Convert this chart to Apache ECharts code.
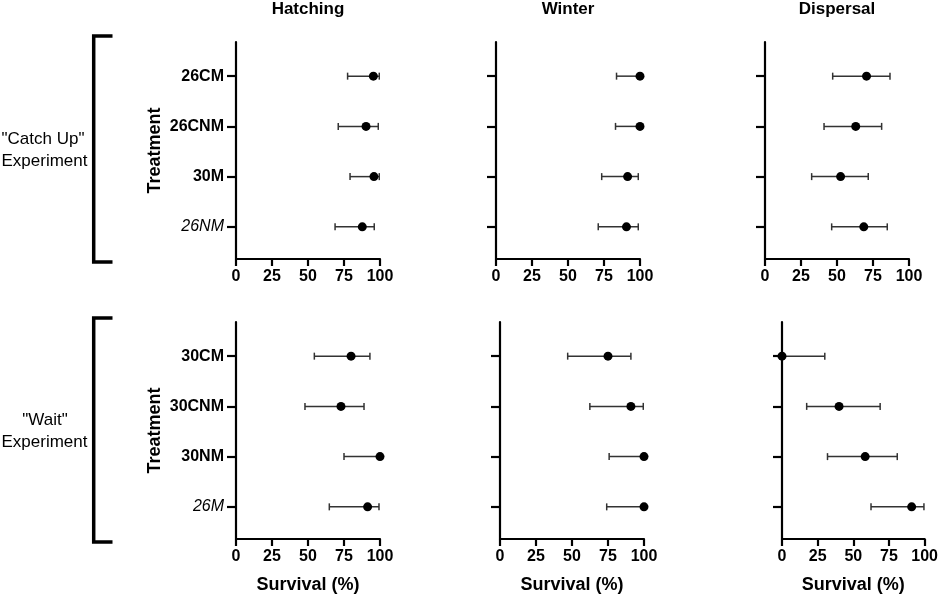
<!DOCTYPE html>
<html>
<head>
<meta charset="utf-8">
<script src="https://cdn.jsdelivr.net/npm/echarts@6/dist/echarts.min.js"></script>
<style>
html,body{margin:0;padding:0;background:#fff;}
#chart{width:941px;height:597px;}
</style>
</head>
<body>
<div id="chart"></div>
<script>
// ---- Data ----
const catchUpCats = ['26CM', '26CNM', '30M', '26NM'];
const waitCats = ['30CM', '30CNM', '30NM', '26M'];
const italicCats = ['26NM', '26M'];
const stageTitles = ['Hatching', 'Winter', 'Dispersal'];
const xTicks = [0, 25, 50, 75, 100];

// Catch Up experiment
const hatchCU_mean = [95.4, 90.3, 95.8, 87.7];
const hatchCU_low  = [77.5, 71.0, 79.2, 68.8];
const hatchCU_high = [99.5, 98.8, 99.5, 96.0];

const winterCU_mean = [100, 100, 91.4, 90.6];
const winterCU_low  = [83.7, 83.0, 73.4, 71.0];
const winterCU_high = [100, 100, 98.8, 98.8];

const dispCU_mean = [70.5, 63.0, 52.5, 68.6];
const dispCU_low  = [47.0, 41.0, 32.4, 46.3];
const dispCU_high = [86.8, 81.0, 71.7, 84.9];

// Wait experiment
const hatchW_mean = [79.9, 72.9, 100, 91.4];
const hatchW_low  = [54.4, 47.9, 75.0, 64.8];
const hatchW_high = [93.0, 88.9, 100, 99.3];

const winterW_mean = [75.0, 90.9, 100, 100];
const winterW_low  = [47.0, 62.4, 75.8, 74.1];
const winterW_high = [90.9, 99.5, 100, 100];

const dispW_mean = [0, 40.0, 58.3, 90.9];
const dispW_low  = [0, 17.3, 31.9, 62.4];
const dispW_high = [30.0, 68.8, 80.8, 99.5];

// ---- Layout ----
const FONT = '"Liberation Sans", Arial, sans-serif';
const panels = [
  {cats: catchUpCats, mean: hatchCU_mean, low: hatchCU_low, high: hatchCU_high, left: 236, top: 42, labels: true, xname: false},
  {cats: catchUpCats, mean: winterCU_mean, low: winterCU_low, high: winterCU_high, left: 496, top: 42, labels: false, xname: false},
  {cats: catchUpCats, mean: dispCU_mean, low: dispCU_low, high: dispCU_high, left: 765, top: 42, labels: false, xname: false},
  {cats: waitCats, mean: hatchW_mean, low: hatchW_low, high: hatchW_high, left: 236, top: 322, labels: true, xname: true},
  {cats: waitCats, mean: winterW_mean, low: winterW_low, high: winterW_high, left: 500, top: 322, labels: false, xname: true},
  {cats: waitCats, mean: dispW_mean, low: dispW_low, high: dispW_high, left: 782, top: 322, labels: false, xname: true}
];
const W = 144, H = 217;

const grids = [], xAxes = [], yAxes = [], series = [];
panels.forEach((p, k) => {
  grids.push({left: p.left, top: p.top, width: W, height: H});
  xAxes.push({
    type: 'value', gridIndex: k, min: 0, max: 100, interval: 25,
    axisLine: {show: true, onZero: false, lineStyle: {color: '#000', width: 2.2}},
    axisTick: {show: true, length: 7, lineStyle: {color: '#000', width: 2.2}},
    axisLabel: {color: '#000', fontFamily: FONT, fontWeight: 'bold', fontSize: 16, margin: 10},
    splitLine: {show: false},
    name: p.xname ? 'Survival (%)' : '',
    nameLocation: 'middle', nameGap: 37,
    nameTextStyle: {color: '#000', fontFamily: FONT, fontWeight: 'bold', fontSize: 18}
  });
  const cats = p.cats;
  yAxes.push({
    type: 'value', gridIndex: k, inverse: true, min: -0.68, max: 3.64,
    axisLine: {show: true, onZero: false, lineStyle: {color: '#000', width: 2.2}},
    axisTick: {show: true, length: 9, customValues: [0, 1, 2, 3], lineStyle: {color: '#000', width: 2.2}},
    axisLabel: {
      show: p.labels, customValues: [0, 1, 2, 3], margin: 12,
      formatter: function (v) {
        const c = cats[Math.round(v)];
        return italicCats.indexOf(c) >= 0 ? '{i|' + c + '}' : '{b|' + c + '}';
      },
      rich: {
        b: {color: '#000', fontFamily: FONT, fontWeight: 'bold', fontSize: 16},
        i: {color: '#000', fontFamily: FONT, fontStyle: 'italic', fontWeight: 'normal', fontSize: 16}
      }
    },
    splitLine: {show: false},
    name: p.labels ? 'Treatment' : '',
    nameLocation: 'middle', nameGap: 72, nameRotate: 90,
    nameTextStyle: {color: '#000', fontFamily: FONT, fontWeight: 'bold', fontSize: 18}
  });
  series.push({
    type: 'custom', xAxisIndex: k, yAxisIndex: k, clip: false, z: 2,
    encode: {x: [0, 1], y: 2},
    data: p.low.map((l, i) => [l, p.high[i], i]),
    renderItem: function (params, api) {
      const a = api.coord([api.value(0), api.value(2)]);
      const b = api.coord([api.value(1), api.value(2)]);
      const h = 3.5;
      const st = {stroke: '#333', lineWidth: 1.5, fill: null};
      return {
        type: 'group',
        children: [
          {type: 'line', shape: {x1: a[0], y1: a[1], x2: b[0], y2: b[1]}, style: st},
          {type: 'line', shape: {x1: a[0], y1: a[1] - h, x2: a[0], y2: a[1] + h}, style: st},
          {type: 'line', shape: {x1: b[0], y1: b[1] - h, x2: b[0], y2: b[1] + h}, style: st}
        ]
      };
    }
  });
  series.push({
    type: 'scatter', xAxisIndex: k, yAxisIndex: k, clip: false, z: 3,
    symbol: 'circle', symbolSize: 9, itemStyle: {color: '#000', opacity: 1},
    data: p.mean.map((m, i) => [m, i])
  });
});

const graphics = [];
[0, 1, 2].forEach(j => {
  const p = panels[j];
  graphics.push({
    type: 'text', x: p.left + W / 2, y: 9,
    style: {text: stageTitles[j], fill: '#000', font: 'bold 17px ' + FONT, textAlign: 'center', textVerticalAlign: 'middle'}
  });
});
function bracket(y1, y2) {
  return {
    type: 'polyline',
    shape: {points: [[112.5, y1], [93.7, y1], [93.7, y2], [112.5, y2]]},
    style: {stroke: '#000', lineWidth: 3.5, fill: null, lineJoin: 'miter', lineCap: 'butt'}
  };
}
graphics.push(bracket(36, 262));
graphics.push(bracket(318, 542));
function sideText(t, x, y) {
  return {type: 'text', x: x, y: y, style: {text: t, fill: '#000', font: '17px ' + FONT, textAlign: 'center', textVerticalAlign: 'middle'}};
}
graphics.push(sideText('"Catch Up"', 43, 139.5));
graphics.push(sideText('Experiment', 44.5, 161));
graphics.push(sideText('"Wait"', 45, 420.5));
graphics.push(sideText('Experiment', 44.5, 442));

const chart = echarts.init(document.getElementById('chart'), null, {renderer: 'canvas'});
chart.setOption({
  animation: false,
  backgroundColor: '#fff',
  grid: grids,
  xAxis: xAxes,
  yAxis: yAxes,
  series: series,
  graphic: graphics
});
</script>
</body>
</html>
